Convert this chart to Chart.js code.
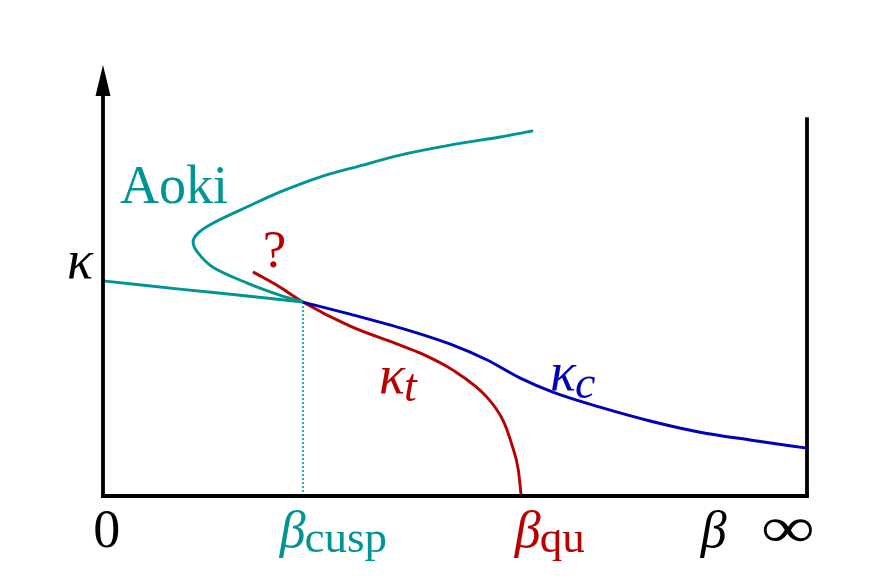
<!DOCTYPE html>
<html>
<head>
<meta charset="utf-8">
<script src="https://cdn.jsdelivr.net/npm/chart.js@4/dist/chart.umd.min.js"></script>
<style>
  html, body { margin: 0; padding: 0; background: #ffffff; }
  #wrap { width: 869px; height: 581px; }
</style>
</head>
<body>
<div id="wrap"><canvas id="c" width="869" height="581"></canvas></div>
<script>
// ---- data (schematic units: beta 0..100 where 100 = infinity, kappa 0..100) ----
const aokiLowerX = [0, 10.9, 20.5, 28.4];
const aokiLowerY = [49.9, 48.0, 46.4, 45.0];

const aokiUpperX = [28.4, 25.1, 20.5, 15.6, 13.5, 12.8, 13.5, 15.6, 20.5, 25.1, 30.8, 36.5, 42.2, 49.3, 56.4, 61.1];
const aokiUpperY = [45.0, 46.6, 49.4, 53.1, 56.4, 58.9, 61.0, 63.3, 67.1, 70.5, 74.0, 76.6, 79.1, 81.4, 83.3, 84.7];

const kappaTX = [21.3, 25.1, 28.4, 35.1, 42.2, 45.0, 49.7, 54.5, 56.8, 58.1, 59.0, 59.4];
const kappaTY = [52.0, 48.5, 45.0, 39.4, 35.0, 33.2, 29.2, 23.0, 17.6, 11.8, 6.0, 0];

const kappaCX = [28.4, 35.1, 42.2, 49.7, 54.5, 59.2, 63.9, 70.6, 77.7, 84.8, 91.9, 100];
const kappaCY = [45.0, 42.2, 39.0, 35.0, 31.6, 27.4, 24.1, 20.6, 17.4, 14.8, 13.0, 11.1];

const cuspX = [28.4, 28.4];
const cuspY = [0, 45.0];

const infLineX = [100, 100];
const infLineY = [0, 87.9];

// text labels
const labelText  = ['Aoki', '?', 'κ', 'κ', 'κ', '0', 'β', 'β', 'β', '∞'];
const labelSub   = ['', '', '', 't', 'c', '', 'cusp', 'qu', '', ''];
const labelX     = [2.4, 22.7, -5.1, 39.2, 63.5, -1.4, 25.1, 58.5, 84.9, 97.3];
const labelY     = [67.9, 53.1, 50.6, 23.9, 24.6, -11.8, -11.8, -11.8, -11.8, -11.8];

const TEAL = '#009494', BLUE = '#0000b8', RED = '#b80000', BLACK = '#000000';
const labelColor = [TEAL, RED, BLACK, RED, BLUE, BLACK, TEAL, RED, BLACK, BLACK];
const labelKind  = ['roman', 'roman', 'math', 'math', 'math', 'roman', 'math', 'math', 'math', 'inf'];

function pts(xs, ys) { return xs.map((x, i) => ({x: x, y: ys[i]})); }

const lineDs = (label, xs, ys, color, extra) => Object.assign({
  label: label, data: pts(xs, ys), borderColor: color, backgroundColor: color,
  borderWidth: 2.9, showLine: true, pointRadius: 0, pointHoverRadius: 0,
  tension: 0.3, fill: false, clip: 6
}, extra || {});

const axesPlugin = {
  id: 'axesPlugin',
  afterDatasetsDraw(chart) {
    const ctx = chart.ctx, xs = chart.scales.x, ys = chart.scales.y;
    const x0 = xs.getPixelForValue(0), x1 = xs.getPixelForValue(100);
    const y0 = ys.getPixelForValue(0), yTop = ys.getPixelForValue(100);
    ctx.save();
    ctx.strokeStyle = BLACK; ctx.fillStyle = BLACK; ctx.lineWidth = 3.8; ctx.lineCap = 'butt';
    ctx.beginPath(); ctx.moveTo(x0 - 1.9, y0); ctx.lineTo(x1 + 1.9, y0); ctx.stroke();
    ctx.beginPath(); ctx.moveTo(x0, y0 + 1.9); ctx.lineTo(x0, yTop + 26); ctx.stroke();
    ctx.beginPath(); ctx.moveTo(x0, yTop); ctx.lineTo(x0 + 7.5, yTop + 31); ctx.lineTo(x0 - 7.5, yTop + 31); ctx.closePath(); ctx.fill();
    ctx.textBaseline = 'alphabetic'; ctx.textAlign = 'left';
    for (let i = 0; i < labelText.length; i++) {
      const px = xs.getPixelForValue(labelX[i]);
      const py = ys.getPixelForValue(labelY[i]);
      ctx.fillStyle = labelColor[i];
      const kind = labelKind[i];
      if (kind === 'roman') {
        ctx.font = (labelText[i] === '?' ? '53px' : '54px') + ' "Liberation Serif", "DejaVu Serif", serif';
        ctx.fillText(labelText[i], px, py);
      } else if (kind === 'inf') {
        ctx.save(); ctx.translate(px, py); ctx.scale(1.3, 1.0);
        ctx.font = '58px "Liberation Serif", "DejaVu Serif", serif';
        ctx.textAlign = 'center';
        ctx.fillText(labelText[i], 0, 0); ctx.restore();
      } else {
        const big = (labelText[i] === 'κ') ? 54 : 52;
        ctx.font = 'italic ' + big + 'px "Liberation Serif", "DejaVu Serif", serif';
        ctx.fillText(labelText[i], px, py);
        const w = ctx.measureText(labelText[i]).width;
        if (labelSub[i]) {
          const sub = labelSub[i];
          const isItal = (sub === 't' || sub === 'c');
          ctx.font = (isItal ? 'italic 46px ' : '45px ') + '"Liberation Serif", "DejaVu Serif", serif';
          ctx.fillText(sub, px + w - 1, py + (isItal ? 8 : 5));
        }
      }
    }
    ctx.restore();
  }
};

new Chart(document.getElementById('c'), {
  type: 'scatter',
  data: {
    datasets: [
      lineDs('Aoki lower', aokiLowerX, aokiLowerY, TEAL),
      lineDs('Aoki upper', aokiUpperX, aokiUpperY, TEAL),
      lineDs('kappa_c', kappaCX, kappaCY, BLUE, {cubicInterpolationMode: 'monotone'}),
      lineDs('kappa_t', kappaTX, kappaTY, RED, {cubicInterpolationMode: 'monotone'}),
      lineDs('beta_cusp', cuspX, cuspY, '#2fa9a9', {borderWidth: 2, borderDash: [2, 2], tension: 0}),
      lineDs('infinity', infLineX, infLineY, BLACK, {borderWidth: 3.8, tension: 0})
    ]
  },
  options: {
    responsive: false, animation: false, devicePixelRatio: 1,
    layout: { padding: { left: 103, right: 62, top: 65, bottom: 85 } },
    plugins: { legend: { display: false }, tooltip: { enabled: false }, title: { display: false } },
    events: [],
    scales: {
      x: { type: 'linear', min: 0, max: 100, display: false },
      y: { type: 'linear', min: 0, max: 100, display: false }
    }
  },
  plugins: [axesPlugin]
});
</script>
</body>
</html>
